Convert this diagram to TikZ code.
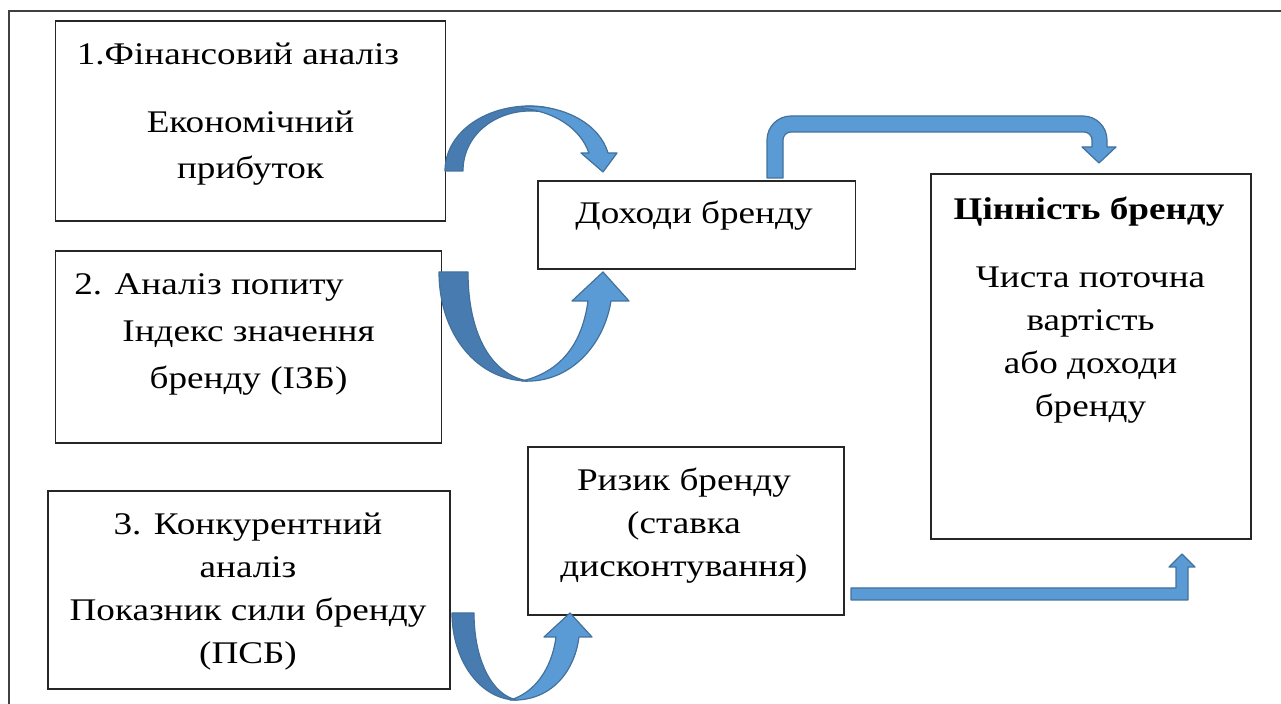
\documentclass[tikz,border=0pt]{standalone}
\usepackage{fontspec}
\setmainfont{Liberation Serif}[FakeStretch=1.18]
\definecolor{arrfront}{RGB}{91,155,213}
\definecolor{arrback}{RGB}{72,124,176}
\definecolor{arrline}{RGB}{65,113,156}
\definecolor{framecol}{RGB}{64,64,64}
\begin{document}
\begin{tikzpicture}[x=0.5pt,y=-0.5pt,
  box/.style={draw=black!85,line width=0.7pt,inner sep=0pt},
  txt/.style={anchor=base,align=center,inner sep=0pt,font=\fontsize{15.75}{21.5}\selectfont},
  front/.style={fill=arrfront,draw=arrline,line width=0.6pt,line join=round},
  back/.style={fill=arrback,draw=arrline,line width=0.6pt,line join=round}]

\useasboundingbox (0,0) rectangle (1281,704);

\draw[framecol,line width=1pt] (9,704)--(9,11)--(1281,11);

\node[box,minimum width=195.1pt,minimum height=100pt] (fin) at (250.6,121){};
\node[box,minimum width=193pt,minimum height=96pt] (dem) at (248.5,347){};
\node[box,minimum width=201pt,minimum height=99pt] (comp) at (249,590){};
\node[box,minimum width=158.8pt,minimum height=44pt] (inc) at (696.8,225){};
\node[box,minimum width=160pt,minimum height=182.5pt] (val) at (1091,356.5){};
\node[box,minimum width=158pt,minimum height=84pt] (risk) at (686,531){};

% base = last line
\node[txt] (finA) at (238,65){1.Фінансовий аналіз};
\node[txt] (finB) at (250.5,179){Економічний\\[1.5pt]прибуток};
\node[txt] (demA) at (209,295){2. Аналіз попиту};
\node[txt] (demB) at (248.5,389){Індекс значення\\[2pt]бренду (ІЗБ)};
\node[txt] (compT) at (248,663.7){3. Конкурентний\\аналіз\\Показник сили бренду\\(ПСБ)};
\node[txt] (incT) at (694,223.5){Доходи бренду};
\node[txt,font=\fontsize{15.75}{21.5}\selectfont\bfseries] (valA) at (1089,220){Цінність бренду};
\node[txt] (valB) at (1090.5,417){Чиста поточна\\вартість\\або доходи\\бренду};
\node[txt] (riskT) at (684,577){Ризик бренду\\(ставка\\дисконтування)};

% fin -> inc
\draw[back] (445,171) .. controls (445,134) and (483,106) .. (530,106)
  .. controls (548,106) and (562,111) .. (572,118)
  .. controls (560,114) and (545,111) .. (530,111)
  .. controls (495,111) and (463,135) .. (463,171) -- cycle;
\draw[front] (522,106.5) .. controls (565,104) and (600,125) .. (608,153)
  -- (617,153) -- (603,172) -- (581,153) -- (589,153)
  .. controls (580,128) and (555,112) .. (522,108) -- cycle;

% dem -> inc
\draw[back] (439,272) .. controls (439,335) and (478,381) .. (528,381)
  .. controls (492,375) and (468,335) .. (468,272) -- cycle;
\draw[front] (522,381) .. controls (570,384) and (604,345) .. (611,301)
  -- (629,301) -- (603,272) -- (572,301) -- (588,301)
  .. controls (582,345) and (560,372) .. (522,381) -- cycle;

% comp -> risk
\draw[back] (452,613) .. controls (452,660) and (480,700) .. (517,700)
  .. controls (492,695) and (474,660) .. (474,613) -- cycle;
\draw[front] (510,700) .. controls (548,702) and (574,675) .. (579,637)
  -- (592,637) -- (570,613) -- (544,637) -- (556,637)
  .. controls (552,668) and (535,693) .. (510,700) -- cycle;

% inc -> val
\draw[front] (767,178) [rounded corners=12pt]-- (767,116) -- (1107,116)
  [sharp corners]-- (1107,147) -- (1116,147) -- (1099,163) -- (1082,147) -- (1092,147)
  [rounded corners=4pt]-- (1092,132) -- (783,132) [sharp corners]-- (783,178) -- cycle;

% risk -> val
\draw[front] (851,588) -- (1176,588) -- (1176,567) -- (1169,567) -- (1182,554)
  -- (1195,567) -- (1188,567) -- (1188,600) -- (851,600) -- cycle;

\end{tikzpicture}
\end{document}
